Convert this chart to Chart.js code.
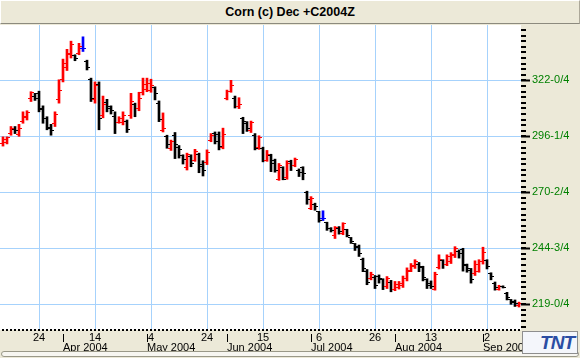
<!DOCTYPE html>
<html><head><meta charset="utf-8">
<script src="https://cdn.jsdelivr.net/npm/chart.js@4.4.1/dist/chart.umd.min.js"></script>
<style>
html,body{margin:0;padding:0;}
body{width:580px;height:358px;background:#ECE9D8;position:relative;overflow:hidden;font-family:"Liberation Sans",Arial,sans-serif;}
#title{position:absolute;left:0;top:0;width:580px;height:24px;box-sizing:border-box;border-top:1px solid #fff;border-left:1px solid #fff;border-bottom:1px solid #8c8a7e;border-right:1px solid #aca899;text-align:center;font-weight:bold;font-size:12.5px;line-height:22px;color:#000;z-index:2;background:#ECE9D8;}
#wrap{position:absolute;left:0;top:24px;width:580px;height:334px;}
#logo{position:absolute;left:522px;top:331px;width:56px;height:23px;box-sizing:border-box;border:1px solid #8e8e8e;background:#f4f6fb;z-index:3;text-align:right;padding-right:3px;font:italic bold 19px "Liberation Sans",Arial,sans-serif;line-height:21px;color:#2b4da3;letter-spacing:-1px;}
#scroll{position:absolute;left:1px;top:351px;width:578px;height:6px;box-sizing:border-box;border:1px solid #9a9888;border-radius:3px;background:#f7f6f1;z-index:2;}
</style></head>
<body>
<div id="title">Corn (c) Dec +C2004Z</div>
<div id="wrap"><canvas id="c" width="580" height="334"></canvas></div>
<div id="logo">TNT</div>
<div id="scroll"></div>
<script>
// Trading dates (2004), one per bar
const dates = [
'03-11','03-12','03-15','03-16','03-17','03-18','03-19','03-22','03-23','03-24','03-25','03-26','03-29','03-30','03-31',
'04-01','04-02','04-05','04-06','04-07','04-08','04-12','04-13','04-14','04-15','04-16','04-19','04-20','04-21','04-22','04-23','04-26','04-27','04-28','04-29','04-30',
'05-03','05-04','05-05','05-06','05-07','05-10','05-11','05-12','05-13','05-14','05-17','05-18','05-19','05-20','05-21','05-24','05-25','05-26','05-27','05-28',
'06-01','06-02','06-03','06-04','06-07','06-08','06-09','06-10','06-14','06-15','06-16','06-17','06-18','06-21','06-22','06-23','06-24','06-25','06-28','06-29','06-30',
'07-01','07-02','07-06','07-07','07-08','07-09','07-12','07-13','07-14','07-15','07-16','07-19','07-20','07-21','07-22','07-23','07-26','07-27','07-28','07-29','07-30',
'08-02','08-03','08-04','08-05','08-06','08-09','08-10','08-11','08-12','08-13','08-16','08-17','08-18','08-19','08-20','08-23','08-24','08-25','08-26','08-27','08-30','08-31',
'09-01','09-02','09-03','09-07','09-08','09-09','09-10','09-13','09-14','09-15'];

const opens = [292.75,293.5,297.75,299.5,297.25,303.25,304.75,313.5,314.75,315.75,
309.25,304.25,300.5,302,313,322.5,327.75,333.75,333.25,334.5,
336.75,330.5,322.5,313,320.25,306,312,309.25,305.5,302.75,
302.5,303.25,306,310.75,309.25,316.5,318,317.5,318.5,311.5,
298.75,296,290.75,296.75,291.25,287.25,281.75,286.75,285.25,287.75,
283.5,284,294.5,297.75,297.25,291.25,313.75,317,313.75,309.75,
304.25,302.25,298.75,296.75,291.25,290.5,285.25,287.25,285,276.5,
281.75,277.5,284.5,283,280.75,281.75,270.25,263.25,265,261.5,
258.25,256.5,253.75,250.5,254,251.75,253.25,249.5,246.75,245.75,
239.75,234.25,230.75,231.5,231.75,230.25,227,229.25,226,226.5,
227.5,230.75,234.75,236.25,237.5,235.75,230.25,228.75,226,235.75,
239,237.5,238.5,241.25,243.5,244,237,234.75,233,234.25,
238.5,239,233,228.75,226,227.25,224,221,220.5,218.25];

const highs = [296,296,300.75,300.75,301.75,307.5,308,316.75,316,317,
310.25,305.25,301.75,307.5,322.25,331.75,336.25,340,333.75,339,
342,331.25,323,321.25,321.25,314.75,313.25,310.25,307.5,305.25,
307.5,303.75,316,311.5,316.5,323,323,322.5,319,312.5,
307,296.75,294.5,298,292,287.75,288.5,287.75,290.25,288.5,
285,290,297.5,298.25,298.25,300,317.5,322,314.75,314,
305,303,303.25,297.5,296.5,291.25,289.75,288,285.75,283.75,
282.25,285,285.25,286.25,281.25,282.25,271,268.5,265.5,261.75,
262,256.75,254.25,254.75,254.75,256.5,253.5,249.75,247,246.25,
240.25,235,233.75,232.25,232.5,230.75,231.75,230,229.5,229.5,
232,235.75,237.75,239.5,238.25,236.5,230.75,229.75,233.75,241.75,
239.5,241.75,242.75,245.5,244,244.75,237.5,235.5,239,239.5,
245.25,239.5,233.5,229.25,227.75,227.5,224.5,221.25,221,220];

const lows = [291.75,292.75,296.75,297.5,296.25,302.25,303.75,312.25,312.75,307.5,
302.25,299.25,296.75,300.75,311.5,321.25,326.5,332.25,331,333.75,
335.25,326.75,312.25,311.5,299.25,304.75,307.5,306.5,297.5,302.25,
301.5,298,304.5,305.25,308,315.25,316.75,316.5,313,303,
298.25,290.75,289.75,286,286.25,283.5,280.75,282.25,284.75,279.5,
278,283.25,293.75,292.75,290,290.5,313,316.5,309.25,309,
297.5,298.5,298,290,290.25,284.5,284.75,280,279.75,276,
276.25,276.5,280.5,282.25,277.75,276.25,265,262.5,262.25,256.75,
257.5,253,252.25,249.25,251.25,251,250,247,243.75,241,
234,228,230.25,226.25,228.75,225.75,226.25,224.75,225.25,226,
226.75,229.75,234,235.5,234,229.75,226.25,226.25,225.5,235.25,
235.5,236.75,237.75,240.5,240.25,234.25,233.75,228.75,232.25,233.75,
237.5,235.25,230.25,225.5,225.5,226.5,221,219,218,217.75];

const closes = [295,295.5,300,298.75,300,305.5,307,316.25,313.75,308.75,
304.25,300,298.75,306.5,317.5,329.75,334.5,338.25,332.25,337.75,
336.75,328,313.75,319.75,304.5,311,309.75,308,302.75,304.25,
306,299.5,312.25,309.25,313.75,320.25,320.75,319.75,315.75,303.75,
299.75,292.25,293.75,292.25,290,285.75,287.75,283.75,289.25,282.25,
280.75,289,296.5,293.75,291.5,297.25,317,319.75,309.75,311,
303,300,302.5,290.75,295.5,285.25,287.75,283.75,280.75,283,
276.5,283.75,283,285.75,279.5,279,267.25,267.5,263.75,257.75,
258.25,254,252.75,254.5,252.5,256.25,250.75,248,245,242.25,
235.25,229.25,232.75,227.5,230.75,227,230.75,225.75,228,228.5,
230.75,234.25,236.75,238.75,236.5,231.5,227.5,227.25,232.75,239.75,
237.25,240.75,241.75,244.75,242.25,237.5,235.25,230.25,237.5,238.5,
243,236.5,231.75,226.5,227.25,226.75,222.25,219.75,219.25,219.5];

const dayTickDates = ['03-24','04-14','05-04','05-24','06-15','07-06','07-26','08-13','09-02'];
const dayTickLabels = ['24','14','4','24','15','6','26','13','2'];
const monthTickDates = ['04-01','05-03','06-01','07-01','08-02','09-01'];
const monthTickLabels = ['Apr 2004','May 2004','Jun 2004','Jul 2004','Aug 2004','Sep 2004'];
const priceTicks = [219, 244.75, 270.5, 296.25, 322];
const priceTickLabels = ['219-0/4','244-3/4','270-2/4','296-1/4','322-0/4'];
const minorPriceStep = 2.575;

const dayTickIdx = dayTickDates.map(d => dates.indexOf(d));
const monthTickIdx = monthTickDates.map(d => dates.indexOf(d));

const gridBlue = '#a6d2fc';
const fam = '"Liberation Sans", Arial, sans-serif';
const UP='#ff0000', DOWN='#000000', FLAT='#0000ff';
function colorOf(i){ return closes[i] > opens[i] ? UP : (closes[i] < opens[i] ? DOWN : FLAT); }
function tickImg(color, side){
  const c = document.createElement('canvas'); c.width = 6; c.height = 1;
  const g = c.getContext('2d'); g.fillStyle = color; g.fillRect(side === 'L' ? 0 : 4, 0, 2, 1);
  return c;
}
const openImg = {}, closeImg = {};
[UP, DOWN, FLAT].forEach(c => { openImg[c] = tickImg(c, 'L'); closeImg[c] = tickImg(c, 'R'); });

const barColors = dates.map((d, i) => colorOf(i));

const decoPlugin = {
  id: 'deco',
  beforeDraw(chart){
    const a = chart.chartArea, ctx = chart.ctx;
    ctx.save(); ctx.fillStyle = '#ffffff'; ctx.fillRect(a.left, a.top, a.right - a.left, a.bottom - a.top); ctx.restore();
    ctx.imageSmoothingEnabled = false;
  },
  afterDraw(chart){
    const y = chart.scales.y, x = chart.scales.x, x2 = chart.scales.x2, a = chart.chartArea, ctx = chart.ctx;
    ctx.save(); ctx.fillStyle = '#000';
    for (let k = -5; k <= 50; k++) {
      const v = priceTicks[0] + k * minorPriceStep;
      if (v < y.min - 0.3 || v > y.max + 0.3) continue;
      const py = Math.round(y.getPixelForValue(v));
      ctx.fillRect(y.left, py - 1, 5, 2);
    }
    dates.forEach((d, i) => {
      const px = Math.round(x.getPixelForValue(i));
      ctx.fillRect(px - 1, a.bottom - 1, 2, 2);
    });
    monthTickIdx.forEach(v => {
      const px = Math.round(x2.getPixelForValue(v));
      ctx.fillRect(px, a.bottom + 4, 1, 8);
    });
    ctx.restore();
  }
};

new Chart(document.getElementById('c'), {
  type: 'scatter',
  data: {
    datasets: [
      { type: 'bar', data: dates.map((d, i) => ({ x: i, y: [lows[i], highs[i]] })),
        backgroundColor: barColors, borderWidth: 0, barThickness: 2, grouped: false,
        xAxisID: 'x', yAxisID: 'y', order: 2 },
      { type: 'scatter', data: dates.map((d, i) => ({ x: i, y: opens[i] })),
        pointStyle: ctx => openImg[colorOf(ctx.dataIndex)], pointRadius: 3,
        showLine: false, xAxisID: 'x', yAxisID: 'y', order: 1 },
      { type: 'scatter', data: dates.map((d, i) => ({ x: i, y: closes[i] })),
        pointStyle: ctx => closeImg[colorOf(ctx.dataIndex)], pointRadius: 3,
        showLine: false, xAxisID: 'x', yAxisID: 'y', order: 1 }
    ]
  },
  options: {
    responsive: false, animation: false, events: [],
    layout: { padding: { top: 1, left: 0, right: 0, bottom: 0 }, autoPadding: false },
    plugins: { legend: { display: false }, tooltip: { enabled: false }, title: { display: false } },
    scales: {
      x: {
        type: 'linear', position: 'bottom', weight: 0, offset: false, min: -0.75, max: dates.length - 0.5,
        afterBuildTicks: s => { s.ticks = dayTickIdx.map(v => ({ value: v })); },
        afterFit: s => { s.height = 13; s.paddingLeft = 0; s.paddingRight = 0; },
        ticks: { autoSkip: false, maxRotation: 0, padding: 1.5, color: '#000', font: { family: fam, size: 11 },
          callback: v => dayTickLabels[dayTickIdx.indexOf(v)] },
        grid: { color: gridBlue, lineWidth: 1, drawTicks: false, offset: false },
        border: { display: false }
      },
      x2: {
        type: 'linear', position: 'bottom', weight: 1, offset: false, min: -0.75, max: dates.length - 0.5,
        afterBuildTicks: s => { s.ticks = monthTickIdx.map(v => ({ value: v })); },
        afterFit: s => { s.height = 15; s.paddingLeft = 0; s.paddingRight = 0; },
        ticks: { autoSkip: false, maxRotation: 0, align: 'start', padding: -1.6, color: '#000', font: { family: fam, size: 11 },
          callback: v => monthTickLabels[monthTickIdx.indexOf(v)] },
        grid: { display: false, drawOnChartArea: false, drawTicks: false, offset: false },
        border: { display: false }
      },
      y: {
        type: 'linear', position: 'right', min: 207.18, max: 347.43,
        afterBuildTicks: s => { s.ticks = priceTicks.map(v => ({ value: v })); },
        afterFit: s => { s.width = 59; s.paddingTop = 0; s.paddingBottom = 0; },
        ticks: { padding: 2, color: '#008000', font: { family: fam, size: 11 },
          callback: v => priceTickLabels[priceTicks.indexOf(v)] },
        grid: { color: gridBlue, lineWidth: 1, tickColor: '#000', tickLength: 9, tickWidth: 2, drawTicks: true },
        border: { display: false }
      }
    }
  },
  plugins: [decoPlugin]
});
</script>
</body></html>
